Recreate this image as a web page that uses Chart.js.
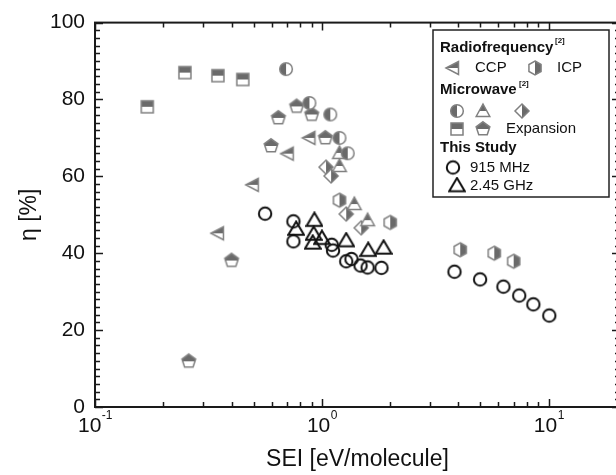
<!DOCTYPE html>
<html lang="en">
<head>
<meta charset="UTF-8">
<title>Energy efficiency vs SEI</title>
<script src="https://cdn.jsdelivr.net/npm/chart.js"></script>
<style>
    html, body { margin: 0; padding: 0; background: #fff; overflow: hidden; }
    #wrap { width: 628px; height: 475px; }
</style>
</head>
<body>
<div id="wrap"><canvas id="chart" width="628" height="475"></canvas></div>
<script>
    // SEI [eV/molecule] and eta [%]
    const ccpSEI = [0.348, 0.496, 0.707, 0.881];
    const ccpEta = [45.2, 57.8, 65.9, 70.0];
    const icpSEI = [1.195, 2.0, 4.07, 5.75, 7.0];
    const icpEta = [53.8, 48.0, 40.9, 40.0, 37.9];
    const mwCircleSEI = [0.695, 0.881, 1.089, 1.195, 1.30];
    const mwCircleEta = [87.9, 79.1, 76.1, 70.0, 66.0];
    const mwTriSEI = [1.195, 1.195, 1.39, 1.59];
    const mwTriEta = [66.1, 62.7, 52.8, 48.6];
    const mwDiamondSEI = [1.043, 1.098, 1.28, 1.49];
    const mwDiamondEta = [62.4, 60.1, 50.2, 46.6];
    const mwSquareSEI = [0.170, 0.249, 0.348, 0.448];
    const mwSquareEta = [78.1, 87.0, 86.2, 85.2];
    const expSEI = [0.259, 0.40, 0.597, 0.643, 0.774, 0.902, 1.036];
    const expEta = [11.9, 38.1, 67.9, 75.2, 78.2, 76.1, 70.0];
    const mhz915SEI = [0.562, 0.749, 0.749, 1.105, 1.12, 1.28, 1.35, 1.48, 1.59, 1.83, 3.84, 4.98, 6.31, 7.41, 8.55, 10.05];
    const mhz915Eta = [50.3, 48.3, 43.1, 42.2, 40.7, 37.9, 38.5, 36.8, 36.3, 36.2, 35.2, 33.2, 31.3, 29.0, 26.7, 23.8];
    const ghz245SEI = [0.927, 0.770, 0.92, 0.911, 1.0, 1.28, 1.60, 1.87];
    const ghz245Eta = [48.6, 46.3, 45.0, 42.7, 43.9, 43.3, 40.8, 41.4];

    const xMajor = [0.1, 1, 10];
    const xExp = ["-1", "0", "1"];
    const xMinor = [0.2, 0.3, 0.4, 0.5, 0.6, 0.7, 0.8, 0.9, 2, 3, 4, 5, 6, 7, 8, 9, 20];

    const FONT = "'Liberation Sans', Arial, Helvetica, sans-serif";
    const DARK = "#6a6a6a";
    const EDGE = "#808080";

    function pts(xs, ys) {
        return xs.map((x, i) => ({ x: x, y: ys[i] }));
    }

    function makeMarker(draw) {
        const c = document.createElement("canvas");
        c.width = 18; c.height = 18;
        const g = c.getContext("2d");
        g.translate(9, 9);
        draw(g);
        return c;
    }

    function poly(g, p) {
        g.beginPath();
        g.moveTo(p[0][0], p[0][1]);
        for (let i = 1; i < p.length; i++) g.lineTo(p[i][0], p[i][1]);
        g.closePath();
    }

    function regular(n, r) {
        let p = [];
        for (let k = 0; k < n; k++) {
            let a = -Math.PI / 2 + k * 2 * Math.PI / n;
            p.push([r * Math.cos(a), r * Math.sin(a)]);
        }
        return p;
    }

    // half filled grey marker, side = which half is dark
    function halfMarker(path, side) {
        return makeMarker(g => {
            path(g); g.fillStyle = "#fff"; g.fill();
            g.save(); path(g); g.clip();
            g.fillStyle = DARK;
            if (side === "top") g.fillRect(-9, -9, 18, 9);
            if (side === "left") g.fillRect(-9, -9, 9, 18);
            if (side === "right") g.fillRect(0, -9, 9, 18);
            g.restore();
            path(g); g.lineWidth = 1.5; g.strokeStyle = EDGE; g.stroke();
        });
    }

    const mkCCP = halfMarker(g => poly(g, [[-7, 0], [5.5, -6.5], [5.5, 6.5]]), "top");
    const mkICP = halfMarker(g => poly(g, regular(6, 7)), "right");
    const mkCircle = halfMarker(g => { g.beginPath(); g.arc(0, 0, 6.3, 0, 2 * Math.PI); }, "left");
    const mkTri = halfMarker(g => poly(g, [[0, -7], [6.8, 5.5], [-6.8, 5.5]]), "top");
    const mkDiamond = halfMarker(g => poly(g, [[0, -7], [7, 0], [0, 7], [-7, 0]]), "right");
    const mkSquare = halfMarker(g => { g.beginPath(); g.rect(-6, -6, 12, 12); }, "top");
    const mkPent = halfMarker(g => poly(g, regular(5, 7.2)), "top");
    const mkStudyCircle = makeMarker(g => {
        g.beginPath(); g.arc(0, 0, 6.2, 0, 2 * Math.PI);
        g.lineWidth = 2; g.strokeStyle = "#111"; g.stroke();
    });
    const mkStudyTri = makeMarker(g => {
        poly(g, [[0, -7.5], [7.8, 5.8], [-7.8, 5.8]]);
        g.lineWidth = 2; g.strokeStyle = "#111"; g.lineJoin = "miter"; g.stroke();
    });

    function ds(label, xs, ys, mk) {
        return { label: label, data: pts(xs, ys), pointStyle: mk, pointRadius: 7 };
    }

    // axes frame with inward ticks, x labels with exponents, grouped legend
    const framePlugin = {
        id: "frame",
        afterDraw(chart) {
            const ctx = chart.ctx;
            const ca = chart.chartArea;
            const xs = chart.scales.x, ys = chart.scales.y;
            ctx.save();
            ctx.strokeStyle = "#1a1a1a";
            ctx.lineWidth = 2;
            ctx.strokeRect(ca.left, ca.top, ca.right - ca.left, ca.bottom - ca.top);
            ctx.lineWidth = 1.5;
            ctx.beginPath();
            const xt = xMajor.map(v => [v, 8]).concat(xMinor.map(v => [v, 5]));
            xt.forEach(([v, len]) => {
                const px = Math.round(xs.getPixelForValue(v)) + 0.5;
                ctx.moveTo(px, ca.bottom); ctx.lineTo(px, ca.bottom - len);
                ctx.moveTo(px, ca.top); ctx.lineTo(px, ca.top + len);
            });
            for (let v = 0; v <= 100; v += 2) {
                const len = v % 20 === 0 ? 8 : 5;
                const py = Math.round(ys.getPixelForValue(v)) + 0.5;
                ctx.moveTo(ca.left, py); ctx.lineTo(ca.left + len, py);
                ctx.moveTo(ca.right, py); ctx.lineTo(ca.right - len, py);
            }
            ctx.stroke();

            // x tick labels 10^n
            ctx.fillStyle = "#111";
            ctx.textBaseline = "alphabetic";
            ctx.textAlign = "left";
            xMajor.forEach((v, i) => {
                const px = xs.getPixelForValue(v);
                ctx.font = "21px " + FONT;
                const wb = ctx.measureText("10").width;
                ctx.font = "12px " + FONT;
                const we = ctx.measureText(xExp[i]).width;
                const x0 = px - (wb + we) / 2;
                ctx.font = "21px " + FONT;
                ctx.fillText("10", x0, 432);
                ctx.font = "12px " + FONT;
                ctx.fillText(xExp[i], x0 + wb + 0.5, 418.5);
            });

            // legend box
            ctx.fillStyle = "#fff";
            ctx.fillRect(433, 30, 176, 167);
            ctx.lineWidth = 1.5;
            ctx.strokeStyle = "#222";
            ctx.strokeRect(433, 30, 176, 167);
            const put = (mk, x, y) => ctx.drawImage(mk, x - 9, y - 9);
            const txt = (s, x, y, f) => { ctx.font = f; ctx.fillText(s, x, y); };
            ctx.fillStyle = "#111";
            ctx.textBaseline = "middle";
            txt("Radiofrequency", 440, 48, "bold 15px " + FONT);
            txt("[2]", 555, 41, "bold 8px " + FONT);
            put(mkCCP, 453, 68);
            txt("CCP", 475, 68, "15px " + FONT);
            put(mkICP, 535, 68);
            txt("ICP", 557, 68, "15px " + FONT);
            txt("Microwave", 440, 90, "bold 15px " + FONT);
            txt("[2]", 519, 84, "bold 8px " + FONT);
            put(mkCircle, 457, 111);
            put(mkTri, 483, 111);
            put(mkDiamond, 522, 111);
            put(mkSquare, 457, 129);
            put(mkPent, 483, 129);
            txt("Expansion", 506, 129, "15px " + FONT);
            txt("This Study", 440, 148, "bold 15px " + FONT);
            put(mkStudyCircle, 453, 167.5);
            txt("915 MHz", 470, 167.5, "15px " + FONT);
            put(mkStudyTri, 457, 185.5);
            txt("2.45 GHz", 470, 185.5, "15px " + FONT);
            ctx.restore();
        }
    };

    new Chart(document.getElementById("chart"), {
        type: "scatter",
        data: {
            datasets: [
                ds("Radiofrequency CCP", ccpSEI, ccpEta, mkCCP),
                ds("Radiofrequency ICP", icpSEI, icpEta, mkICP),
                ds("Microwave (circle)", mwCircleSEI, mwCircleEta, mkCircle),
                ds("Microwave (triangle)", mwTriSEI, mwTriEta, mkTri),
                ds("Microwave (diamond)", mwDiamondSEI, mwDiamondEta, mkDiamond),
                ds("Microwave (square)", mwSquareSEI, mwSquareEta, mkSquare),
                ds("Expansion", expSEI, expEta, mkPent),
                ds("This Study 915 MHz", mhz915SEI, mhz915Eta, mkStudyCircle),
                ds("This Study 2.45 GHz", ghz245SEI, ghz245Eta, mkStudyTri)
            ]
        },
        options: {
            responsive: false,
            animation: false,
            devicePixelRatio: 1,
            events: [],
            layout: { padding: { top: 21, right: 7, left: 0, bottom: 0 } },
            plugins: { legend: { display: false }, tooltip: { enabled: false } },
            scales: {
                x: {
                    type: "logarithmic",
                    min: 0.1, max: 20.6,
                    grid: { display: false, drawTicks: false },
                    border: { display: false },
                    ticks: { display: false },
                    title: { display: true, text: "SEI [eV/molecule]", color: "#111",
                             font: { family: FONT, size: 23 }, padding: { top: 0, bottom: 2 } },
                    afterFit: s => { s.height = 68; }
                },
                y: {
                    min: 0, max: 100,
                    grid: { display: false, drawTicks: false },
                    border: { display: false },
                    ticks: { stepSize: 20, padding: 10, color: "#111", font: { family: FONT, size: 21 } },
                    title: { display: true, text: "η [%]", color: "#111",
                             font: { family: FONT, size: 23 }, padding: { top: 16, bottom: 0 } },
                    afterFit: s => { s.width = 95; }
                }
            }
        },
        plugins: [framePlugin]
    });
</script>
</body>
</html>
